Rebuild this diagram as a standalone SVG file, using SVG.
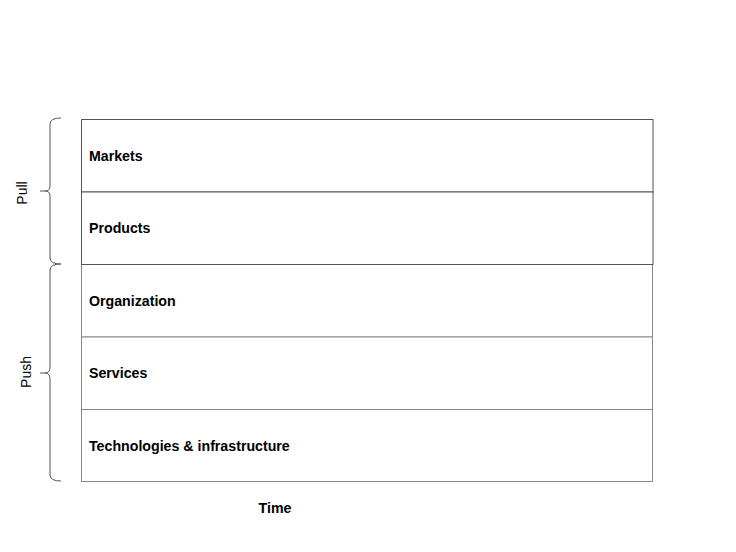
<svg xmlns="http://www.w3.org/2000/svg" width="736" height="552" viewBox="0 0 736 552">
<style>
.row{fill:#fff;stroke-width:1}
.pull{stroke:#555}
.push{stroke:#888}
.lbl{font-family:"Liberation Sans",Arial,sans-serif;font-size:14.2px;font-weight:bold;fill:#000}
.side{font-family:"Liberation Sans",Arial,sans-serif;font-size:14px;fill:#000}
.brace{fill:none;stroke:#555;stroke-width:1}
</style>
<rect width="736" height="552" fill="#fff"/>
<g id="organization"><rect class="row push" x="81.5" y="264.5" width="571" height="72.5"/><text class="lbl" x="89" y="305.5">Organization</text></g>
<g id="services"><rect class="row push" x="81.5" y="337" width="571" height="72.5"/><text class="lbl" x="89" y="378">Services</text></g>
<g id="technologies"><rect class="row push" x="81.5" y="409.5" width="571" height="72"/><text class="lbl" x="89" y="450.5">Technologies &amp; infrastructure</text></g>
<g id="markets"><rect class="row pull" x="81.5" y="119.5" width="571.5" height="72.5"/><text class="lbl" x="89" y="160.5">Markets</text></g>
<g id="products"><rect class="row pull" x="81.5" y="192" width="571.5" height="72.5"/><text class="lbl" x="89" y="233">Products</text></g>
<g id="pull-brace">
<path class="brace" d="M61,118 Q50,118 50,124 L50,186 Q50,191 45,191 L40,191 M45,191 Q50,191 50,196 L50,258 Q50,264 61,264"/>
<text class="side" transform="translate(27,193) rotate(-90)" text-anchor="middle">Pull</text>
</g>
<g id="push-brace">
<path class="brace" d="M61,264 Q50,264 50,270 L50,367 Q50,373 45,373 L40,373 M45,373 Q50,373 50,379 L50,475 Q50,481 61,481"/>
<text class="side" transform="translate(31,372) rotate(-90)" text-anchor="middle">Push</text>
</g>
<g id="time"><text class="lbl" x="275" y="513" text-anchor="middle">Time</text></g>
<g id="connectors"></g>
</svg>
